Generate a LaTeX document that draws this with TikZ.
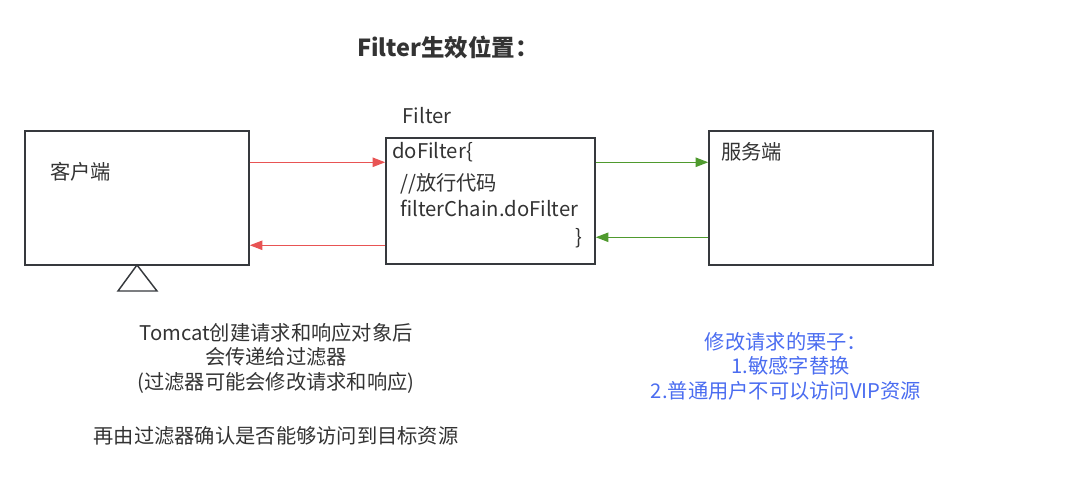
\documentclass[tikz,border=0pt]{standalone}
\usepackage{fontspec}
\setmainfont{Noto Sans CJK SC}
\usetikzlibrary{arrows.meta,calc}
\definecolor{boxline}{HTML}{36393D}
\definecolor{txt}{HTML}{333333}
\definecolor{redline}{HTML}{E85454}
\definecolor{greenline}{HTML}{4F9A2E}
\definecolor{bluetxt}{HTML}{4A6CF0}
\tikzset{
  box/.style={draw=boxline,line width=1.1pt,fill=white,inner sep=0pt},
  lbl/.style={inner sep=0pt,text=txt,font=\fontsize{15.2pt}{18.4pt}\selectfont},
  redarrow/.style={draw=redline,line width=1.1pt,-{Triangle[length=9.5pt,width=7pt]}},
  greenarrow/.style={draw=greenline,line width=1.1pt,-{Triangle[length=9.5pt,width=7pt]}},
}
\begin{document}
\begin{tikzpicture}[x=0.75pt,y=-0.75pt]
\useasboundingbox (0,0) rectangle (1065,487);
% boxes
\node[box,minimum width=168pt,minimum height=100.5pt] (client) at (137,198) {};
\node[box,minimum width=156.75pt,minimum height=94.5pt] (filter) at (490.5,201) {};
\node[box,minimum width=168pt,minimum height=100.5pt] (server) at (821,198) {};
% triangle under client
\coordinate (apex) at (137,265);
\draw[draw=boxline,line width=1.1pt,line join=miter] (apex) -- (118,291) -- (157,291) -- cycle;
% title
\node[inner sep=0pt,text=txt,font=\fontsize{17.6pt}{20pt}\selectfont\bfseries] (title) at (448,47) {Filter生效位置：};
% labels
\node[lbl] (filterlbl) at (427,116) {Filter};
\node[lbl,anchor=west] (clientlbl) at (50,172) {客户端};
\node[lbl,anchor=west] (serverlbl) at (721,152) {服务端};
\node[lbl,anchor=west] (dofilter) at (392,152) {doFilter\{};
\node[lbl,anchor=west] (comment) at (400,184) {//放行代码};
\node[lbl,anchor=west] (chain) at (400,208) {filterChain.doFilter};
\node[lbl] (brace) at (579,238) {\}};
% arrows
\draw[redarrow] ($(client.north east)+(0,32)$) -- ($(filter.north west)+(0,25)$);
\draw[redarrow] ($(filter.north west)+(0,108)$) -- ($(client.north east)+(0,115)$);
\draw[greenarrow] ($(filter.north east)+(0,25)$) -- ($(server.north west)+(0,32)$);
\draw[greenarrow] ($(server.north west)+(0,107)$) -- ($(filter.north east)+(0,100)$);
% bottom texts
\node[lbl,align=center] (note) at (276,358)
  {Tomcat创建请求和响应对象后\\会传递给过滤器\\(过滤器可能会修改请求和响应)};
\node[lbl] (note2) at (276,436) {再由过滤器确认是否能够访问到目标资源};
\node[lbl,align=center,text=bluetxt] (example) at (786,366)
  {修改请求的栗子：\\\ \ 1.敏感字替换\\2.普通用户不可以访问VIP资源};
\end{tikzpicture}
\end{document}
